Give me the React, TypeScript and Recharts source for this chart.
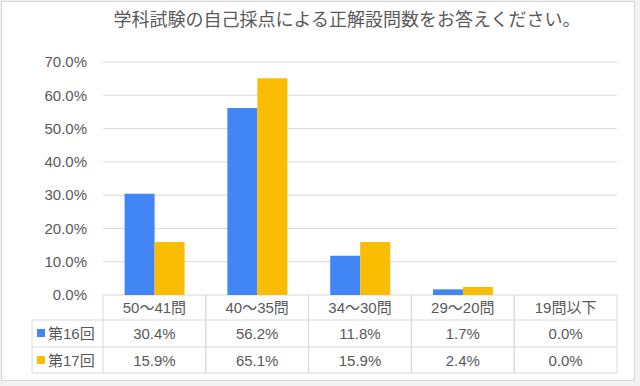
import { BarChart, Bar, XAxis, YAxis, CartesianGrid } from 'recharts'

const title = '学科試験の自己採点による正解設問数をお答えください。'
const categories = ['50～41問', '40～35問', '34～30問', '29～20問', '19問以下']
const seriesNames = ['第16回', '第17回']
const round16 = [30.4, 56.2, 11.8, 1.7, 0.0]
const round17 = [15.9, 65.1, 15.9, 2.4, 0.0]
const yTicks = [0, 10, 20, 30, 40, 50, 60, 70]

const data = categories.map((name, i) => ({ name, r16: round16[i], r17: round17[i] }))
const seriesValues = [round16, round17]

const W = 640
const H = 386
const PLOT_LEFT = 103
const PLOT_RIGHT = 617
const PLOT_TOP = 62
const PLOT_BOTTOM = 295
const ROW_LINES = [320, 347, 373]
const ROW_BASELINES = [313, 339, 366]
const TABLE_LEFT = 32
const GRID = '#d9d9d9'
const TEXT = '#595959'
const FONT = '"Liberation Sans", Arial, "Noto Sans CJK JP", sans-serif'
const COLORS = ['#4285F4', '#FBBC04']

const pct = (v: number) => `${v.toFixed(1)}%`

// x軸の目盛りでデータ表の1列ぶんを描く
function TableTick(props: any) {
  const { x, index } = props
  const band = (PLOT_RIGHT - PLOT_LEFT) / categories.length
  const left = x - band / 2
  const right = x + band / 2
  return (
    <g>
      <line x1={left} x2={left} y1={PLOT_BOTTOM} y2={ROW_LINES[2]} stroke={GRID} />
      <line x1={right} x2={right} y1={PLOT_BOTTOM} y2={ROW_LINES[2]} stroke={GRID} />
      {ROW_LINES.map((ly) => (
        <line key={ly} x1={left} x2={right} y1={ly} y2={ly} stroke={GRID} />
      ))}
      <text x={x} y={ROW_BASELINES[0]} textAnchor="middle" fill={TEXT} fontSize={15} fontFamily={FONT}>
        {categories[index]}
      </text>
      {seriesValues.map((vals, s) => (
        <text key={s} x={x} y={ROW_BASELINES[s + 1]} textAnchor="middle" fill={TEXT} fontSize={15} fontFamily={FONT}>
          {pct(vals[index])}
        </text>
      ))}
      {index === 0 && (
        <g>
          <line x1={TABLE_LEFT} x2={left} y1={ROW_LINES[0]} y2={ROW_LINES[0]} stroke={GRID} />
          <line x1={TABLE_LEFT} x2={left} y1={ROW_LINES[1]} y2={ROW_LINES[1]} stroke={GRID} />
          <line x1={TABLE_LEFT} x2={left} y1={ROW_LINES[2]} y2={ROW_LINES[2]} stroke={GRID} />
          <line x1={TABLE_LEFT} x2={TABLE_LEFT} y1={ROW_LINES[0]} y2={ROW_LINES[2]} stroke={GRID} />
          {seriesNames.map((n, s) => (
            <g key={n}>
              <rect x={37} y={ROW_BASELINES[s + 1] - 10} width={8} height={8} fill={COLORS[s]} />
              <text x={48} y={ROW_BASELINES[s + 1]} textAnchor="start" fill={TEXT} fontSize={15} fontFamily={FONT}>
                {n}
              </text>
            </g>
          ))}
        </g>
      )}
    </g>
  )
}

export default function App() {
  return (
    <div style={{ position: 'absolute', left: 0, top: 0, width: W, height: H, background: '#f2f2f2' }}>
      <div
        style={{
          position: 'absolute',
          left: 1,
          top: 1,
          width: 632,
          height: 378,
          border: '1px solid #d6d6d6',
          background: '#fff',
        }}
      />
      <div style={{ position: 'absolute', left: 0, top: 0 }}>
        <BarChart
          width={W}
          height={H}
          data={data}
          margin={{ top: PLOT_TOP, right: W - PLOT_RIGHT, bottom: 0, left: 43 }}
          barCategoryGap="21%"
          barGap={0}
        >
          <text
            x={347}
            y={26}
            textAnchor="middle"
            fill={TEXT}
            fontSize={18}
            fontFamily='"Noto Sans CJK JP", sans-serif'
          >
            {title}
          </text>
          <CartesianGrid vertical={false} stroke={GRID} />
          <XAxis
            dataKey="name"
            height={H - PLOT_BOTTOM}
            axisLine={false}
            tickLine={false}
            interval={0}
            tick={<TableTick />}
          />
          <YAxis
            width={60}
            domain={[0, 70]}
            ticks={yTicks}
            axisLine={false}
            tickLine={false}
            tickSize={0}
            tickMargin={16}
            tickFormatter={pct}
            tick={{ fill: TEXT, fontSize: 15, fontFamily: FONT }}
          />
          <Bar dataKey="r16" name={seriesNames[0]} fill={COLORS[0]} isAnimationActive={false} />
          <Bar dataKey="r17" name={seriesNames[1]} fill={COLORS[1]} isAnimationActive={false} />
        </BarChart>
      </div>
    </div>
  )
}
